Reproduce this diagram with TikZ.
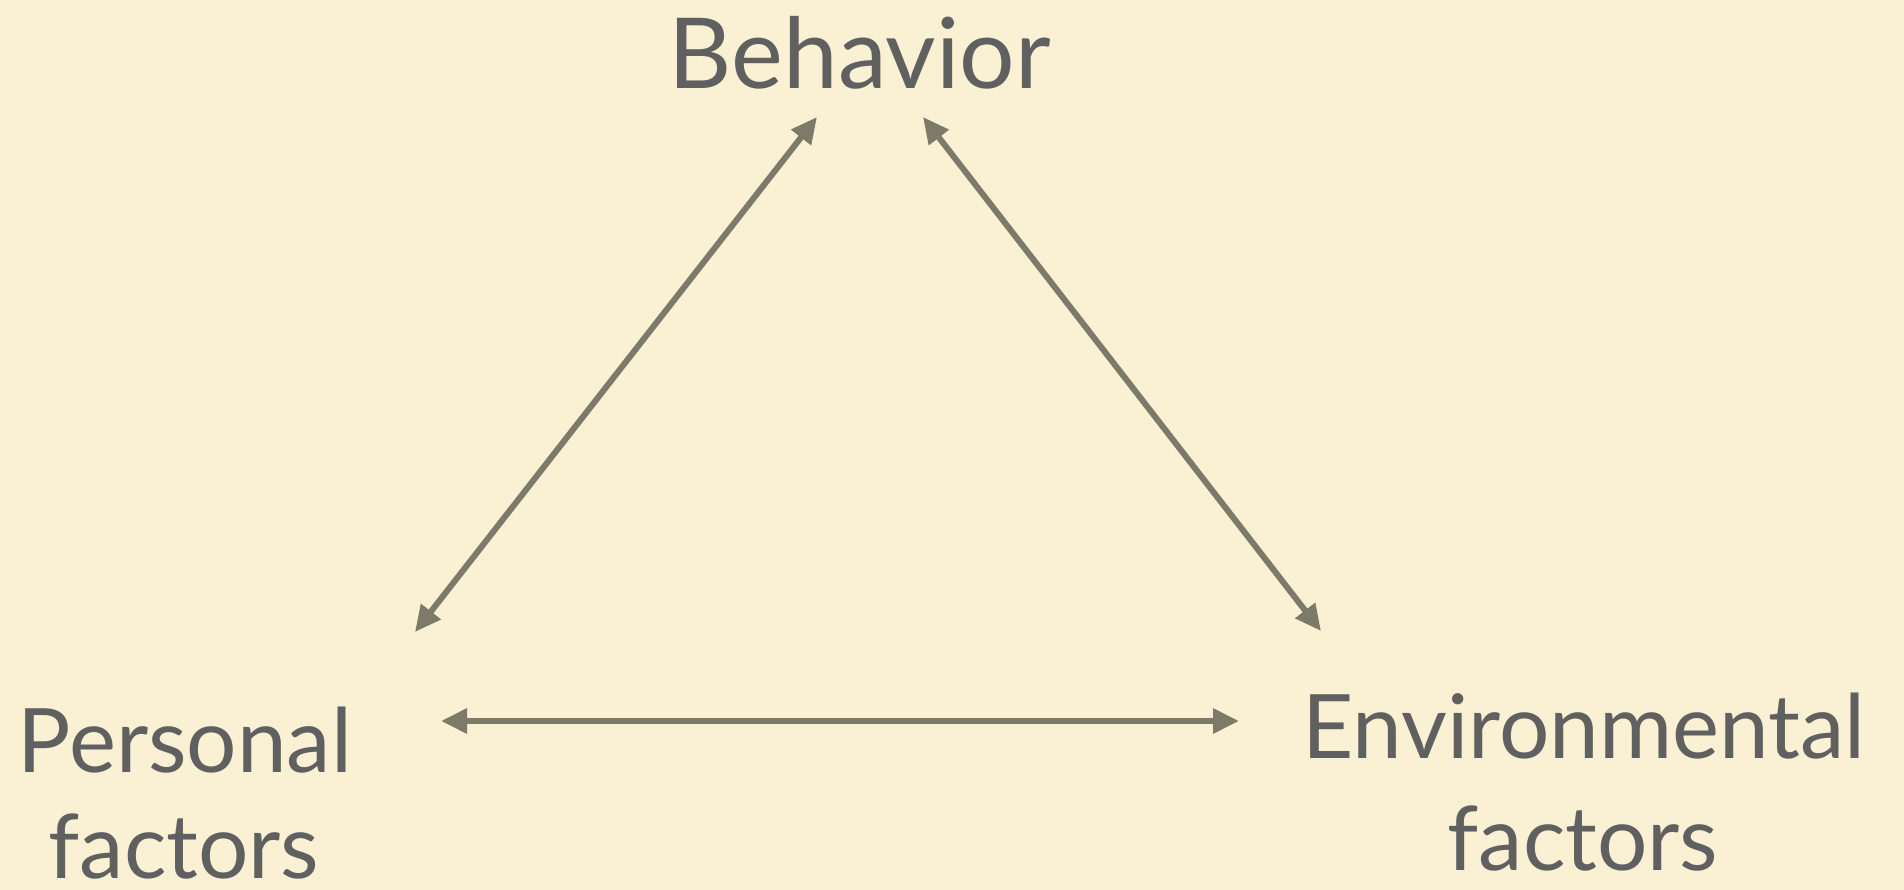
\documentclass[tikz,border=0pt]{standalone}
\usepackage{fontspec}
\setmainfont{Lato}
\usetikzlibrary{arrows.meta}
\definecolor{bgcream}{RGB}{250,240,212}
\definecolor{txtgray}{RGB}{96,96,96}
\definecolor{arrowgray}{RGB}{125,122,105}
\tikzset{
  lbl/.style={text=txtgray, inner sep=0pt, anchor=base, font=\fontsize{98pt}{110pt}\selectfont},
  lblsmall/.style={lbl, font=\fontsize{89pt}{100pt}\selectfont},
  link/.style={draw=arrowgray, line width=6pt, {Triangle[length=26pt,width=24pt]}-{Triangle[length=26pt,width=24pt]}}
}
\begin{document}
\begin{tikzpicture}[x=1pt,y=-1pt]
\fill[bgcream] (0,0) rectangle (1904,890);
\useasboundingbox (0,0) rectangle (1904,890);
\node[lbl] (beh) at (860,89) {Behavior};
\node[lblsmall] (pers1) at (185,772) {Personal};
\node[lblsmall] (pers2) at (184,878) {factors};
\node[lblsmall] (env1) at (1584,758) {Environmental};
\node[lblsmall] (env2) at (1583,870) {factors};
\coordinate (bl) at (817,117);
\coordinate (br) at (923,117);
\coordinate (pt) at (415,632);
\coordinate (pr) at (441,721);
\coordinate (et) at (1321,631);
\coordinate (el) at (1239,721);
\draw[link] (bl) -- (pt);
\draw[link] (br) -- (et);
\draw[link] (pr) -- (el);
\end{tikzpicture}
\end{document}
